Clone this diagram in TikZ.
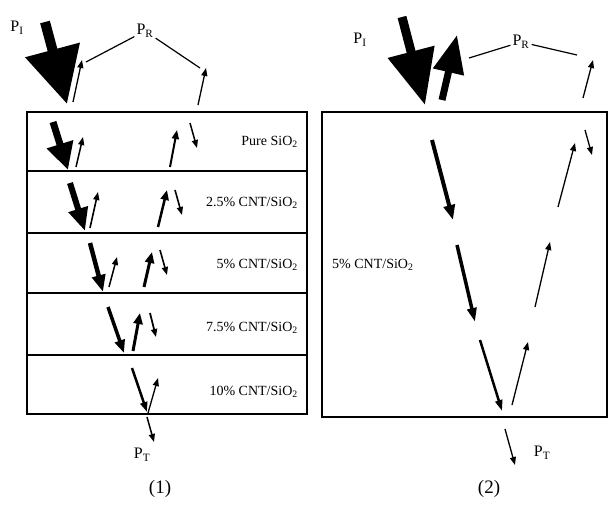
\documentclass[tikz,border=0pt]{standalone}
\usepackage{fontspec}
\setmainfont{Liberation Serif}
\usetikzlibrary{arrows.meta}

\begin{document}
\begin{tikzpicture}[x=1pt,y=-1pt,
  frame/.style={line width=2.8pt},
  lbl/.style={inner sep=2pt,font=\fontsize{16}{16}\selectfont},
  layer/.style={anchor=east,inner sep=0pt,font=\fontsize{14}{14}\selectfont},
  figno/.style={inner sep=0pt,font=\fontsize{19}{19}\selectfont},
  ray/.style n args={3}{line width=#1,-{Triangle[length=#2,width=#3]}},
  fineray/.style={ray={1.3pt}{8pt}{6pt}},
  guide/.style={line width=1.2pt}]
\useasboundingbox (0,0) rectangle (609,504);
% panel (1): stack of layers
\draw[frame] (27,112) rectangle (307,414);
\foreach \y in {171,233,293,355} \draw[frame] (27,\y) -- (307,\y);
\foreach \y/\t [count=\i] in {142/{Pure SiO\textsubscript{2}},203/{2.5\% CNT/SiO\textsubscript{2}},265/{5\% CNT/SiO\textsubscript{2}},328/{7.5\% CNT/SiO\textsubscript{2}},392/{10\% CNT/SiO\textsubscript{2}}}
  \node[layer] (lay\i) at (298,\y) {\t};
\node[lbl] (pil) at (17,28) {P\textsubscript{I}};
\node[lbl] (prl) at (145,31) {P\textsubscript{R}};
\node[lbl] (ptl) at (142,455) {P\textsubscript{T}};
\node[figno] (no1) at (160,489) {(1)};
\coordinate (rl1) at (86,62); \coordinate (rl2) at (200,68);
\draw[guide] (prl) -- (rl1); \draw[guide] (prl) -- (rl2);
% incident / reflected above
\draw[ray={10pt}{56pt}{54pt}] (45,22) -- (67,104);
\draw[fineray] (73,102) -- (82,60);
\draw[fineray] (198,105) -- (206,68);
% layer 1
\draw[ray={7pt}{27pt}{26pt}] (53,122) -- (68,170);
\draw[ray={1.5pt}{8pt}{6pt}] (76,167) -- (83,137);
\draw[ray={2pt}{9pt}{7pt}] (170,167) -- (177,130);
\draw[ray={1.5pt}{8pt}{6pt}] (190,123) -- (197,148);
% layer 2
\draw[ray={6pt}{23pt}{19pt}] (70,183) -- (85,231);
\draw[ray={1.6pt}{8pt}{6pt}] (90,228) -- (98,192);
\draw[ray={2.5pt}{10pt}{8pt}] (158,227) -- (167,190);
\draw[ray={1.6pt}{8pt}{6pt}] (175,190) -- (182,215);
% layer 3
\draw[ray={4.5pt}{17pt}{13pt}] (90,243) -- (103,292);
\draw[ray={1.5pt}{8pt}{6pt}] (109,287) -- (117,257);
\draw[ray={3pt}{11pt}{9pt}] (144,287) -- (152,252);
\draw[ray={1.6pt}{8pt}{6pt}] (160,250) -- (167,275);
% layer 4
\draw[ray={3.5pt}{13pt}{10pt}] (108,307) -- (124,353);
\draw[ray={3pt}{11pt}{9pt}] (133,351) -- (140,313);
\draw[ray={1.8pt}{8pt}{6pt}] (150,313) -- (156,337);
% layer 5 and transmitted
\draw[ray={2.5pt}{10pt}{7pt}] (132,368) -- (147,412);
\draw[fineray] (148,413) -- (158,378);
\draw[ray={1.5pt}{8pt}{6pt}] (147,417) -- (154,442);
% panel (2): single layer
\draw[frame] (322,112) rectangle (607,417);
\node[layer,anchor=west] (layR) at (332,265) {5\% CNT/SiO\textsubscript{2}};
\node[lbl] (pir) at (360,40) {P\textsubscript{I}};
\node[lbl] (prr) at (521,42) {P\textsubscript{R}};
\node[lbl] (ptr) at (542,453) {P\textsubscript{T}};
\node[figno] (no2) at (489,489) {(2)};
\coordinate (rr1) at (469,58); \coordinate (rr2) at (577,55);
\draw[guide] (prr) -- (rr1); \draw[guide] (prr) -- (rr2);
\draw[ray={9pt}{55pt}{46pt}] (402,17) -- (425,105);
\draw[ray={7pt}{38pt}{30pt}] (442,100) -- (457,35);
\draw[fineray] (583,98) -- (593,60);
\draw[ray={4pt}{15pt}{11pt}] (432,140) -- (453,220);
\draw[ray={3.5pt}{14pt}{9pt}] (457,245) -- (475,322);
\draw[ray={2.5pt}{11pt}{7pt}] (480,340) -- (502,411);
\draw[fineray] (512,405) -- (528,342);
\draw[fineray] (535,307) -- (550,242);
\draw[fineray] (558,207) -- (575,143);
\draw[fineray] (585,130) -- (592,155);
\draw[fineray] (505,429) -- (515,465);
\end{tikzpicture}
\end{document}
